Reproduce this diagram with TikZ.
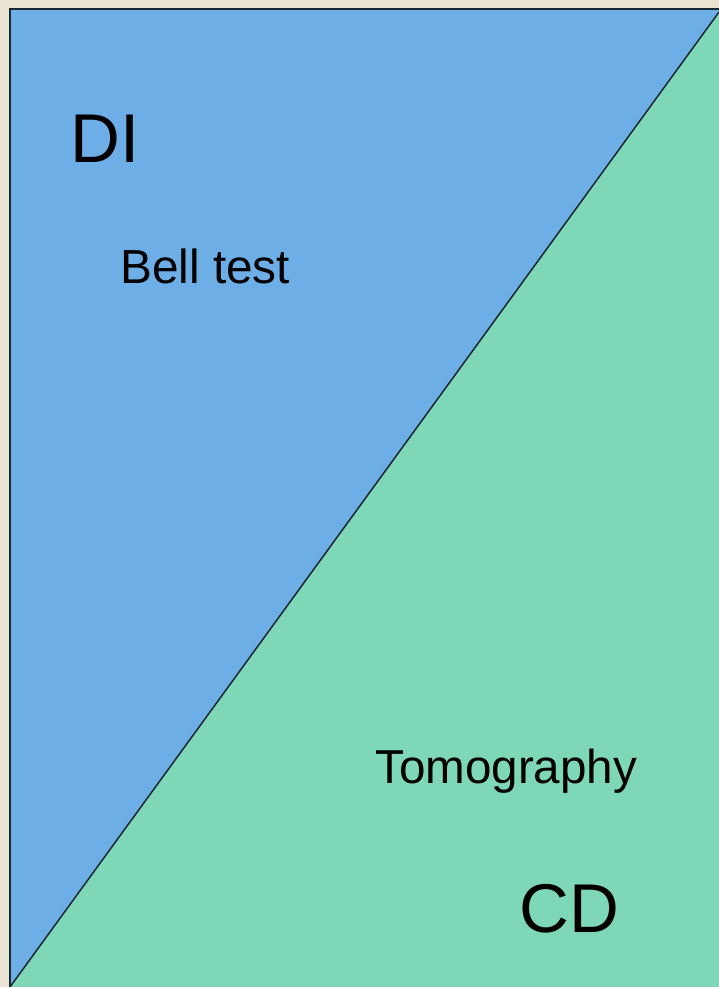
\documentclass[tikz,border=0pt]{standalone}
\usepackage{fontspec}
\setmainfont{Liberation Sans}
\definecolor{bg}{RGB}{233,227,211}
\definecolor{diblue}{RGB}{110,174,230}
\definecolor{cdgreen}{RGB}{126,215,182}
\definecolor{edge}{RGB}{25,40,50}
\tikzset{lbl/.style={anchor=base west,inner sep=0pt,text=black}}
\begin{document}
\begin{tikzpicture}[x=1pt,y=-1pt]
\useasboundingbox (0,0) rectangle (719,987);
\fill[bg] (0,0) rectangle (719,987);
\coordinate (tl) at (10,9);
\coordinate (tr) at (719,9);
\coordinate (br) at (719,987);
\coordinate (bl) at (10,987);
\coordinate (dtop) at (719,12);
\fill[diblue] (tl) -- (tr) -- (dtop) -- (bl) -- cycle;
\fill[cdgreen] (dtop) -- (br) -- (bl) -- cycle;
\draw[edge,line width=2pt] (bl) -- (tl) -- (tr);
\draw[edge,line width=1.5pt] (bl) -- (dtop);
\node[lbl,font=\fontsize{69}{69}\selectfont] (di) at (70,163) {DI};
\node[lbl,font=\fontsize{47.8}{47.8}\selectfont] (bell) at (120,283) {Bell test};
\node[lbl,font=\fontsize{47.6}{47.6}\selectfont] (tomo) at (375,783) {Tomography};
\node[lbl,font=\fontsize{69}{69}\selectfont] (cd) at (519,932) {CD};
\end{tikzpicture}
\end{document}
